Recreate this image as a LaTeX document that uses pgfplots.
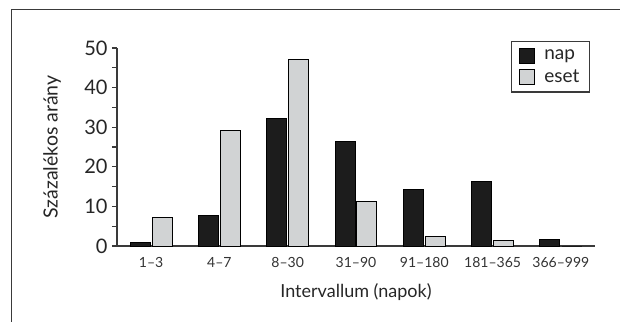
\documentclass[border=0pt]{standalone}
\usepackage{pgfplots}
\pgfplotsset{compat=1.18}
\usepackage{fontspec}
\setmainfont{Lato}
\definecolor{barblack}{HTML}{1C1C1C}
\definecolor{bargray}{HTML}{D1D3D4}
\definecolor{axisgray}{HTML}{3A3A3A}
\begin{document}
\begin{tikzpicture}
\begin{axis}[
  at={(117bp,-246bp)}, anchor=south west,
  scale only axis, width=478bp, height=198bp,
  xmin=-0.5, xmax=6.5, ymin=0, ymax=50,
  axis x line*=bottom, axis y line*=left,
  axis line style={draw=axisgray, line width=1.3bp, -},
  ybar, bar width=20bp,
  xtick={0,1,2,3,4,5,6},
  xticklabels={1--3,4--7,8--30,31--90,91--180,181--365,366--999},
  x tick label style={font=\fontsize{14bp}{16bp}\selectfont, text=black!80, yshift=-3bp},
  major x tick style={draw=none},
  ytick={0,10,20,30,40,50},
  minor ytick={5,15,25,35,45},
  tick align=outside,
  major tick length=5bp, minor tick length=5bp,
  y tick style={draw=axisgray, line width=1.1bp},
  y tick label style={font=\fontsize{20bp}{22bp}\selectfont, text=black!85, xshift=-1bp},
  /pgf/number format/assume math mode=true,
  xlabel={Intervallum (napok)},
  xlabel style={at={(axis description cs:0.5,-0.232)}, anchor=center, font=\fontsize{18bp}{21bp}\selectfont, text=black!85},
  ylabel={Százalékos arány},
  ylabel style={at={(axis description cs:-0.136,0.5)}, anchor=center, rotate=0, font=\fontsize{19.5bp}{21bp}\selectfont, text=black!85},
  legend style={at={(axis description cs:0.9895,1.035)}, anchor=north east,
    draw=axisgray, line width=1.2bp, font=\fontsize{19bp}{20bp}\selectfont,
    inner xsep=8bp, inner ysep=6bp, row sep=4bp, text=black!85,
    /tikz/every odd column/.append style={column sep=7bp}},
  legend cell align=left,
  legend image code/.code={\draw[#1, line width=1bp] (0bp,-7.5bp) rectangle (15bp,7.5bp);},
]
\addplot[fill=barblack, draw=black, line width=1bp] coordinates {
  (0,0.9) (1,7.8) (2,32.3) (3,26.5) (4,14.3) (5,16.4) (6,1.6)};
\addplot[fill=bargray, draw=black, line width=1bp] coordinates {
  (0,7.2) (1,29.2) (2,47.2) (3,11.3) (4,2.3) (5,1.5) (6,0)};
\legend{nap,eset}
\end{axis}
\draw[axisgray, line width=1.2bp] (11.5bp,-322bp) -- (11.5bp,-9.5bp) -- (620bp,-9.5bp);
\pgfresetboundingbox
\path[use as bounding box] (0,0) rectangle (620bp,-322bp);
\end{tikzpicture}
\end{document}
